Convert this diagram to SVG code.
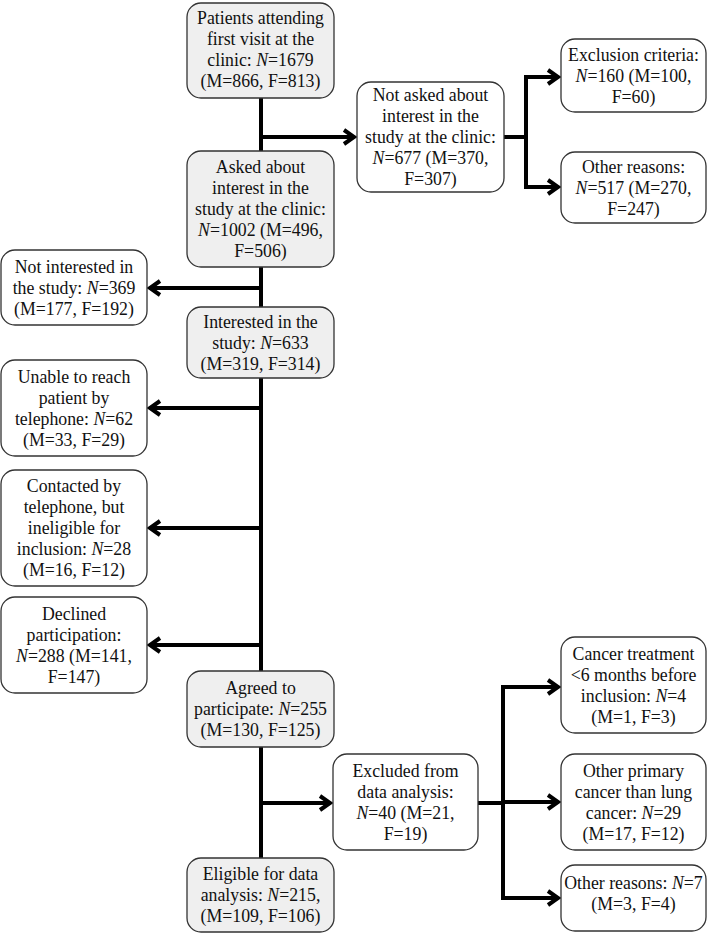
<svg xmlns="http://www.w3.org/2000/svg" width="708" height="934" viewBox="0 0 708 934">
<style>
.box{fill:#ffffff;stroke:#333333;stroke-width:1.3}
.g{fill:#efefef}
text{font-family:"Liberation Serif","Times New Roman",serif;font-size:17.8px;fill:#111111;text-anchor:middle}
.i{font-style:italic}
.c{fill:none;stroke:#000000;stroke-width:4}
.a{marker-end:url(#ah)}
</style>
<defs>
<marker id="ah" markerUnits="userSpaceOnUse" markerWidth="20" markerHeight="20" viewBox="0 0 20 20" refX="12" refY="10" orient="auto" overflow="visible">
<path d="M2,3 L12,10 L2,17" fill="none" stroke="#000000" stroke-width="4"/>
</marker>
</defs>
<rect width="708" height="934" fill="#ffffff"/>
<g id="connectors">
<path class="c" d="M261,98 V151 M261,267 V307 M261,378 V671 M261,747 V858"/>
<path class="c a" d="M261,137 H354"/>
<path class="c" d="M504,137 H526 M526,77 V187"/>
<path class="c a" d="M524,77 H558"/>
<path class="c a" d="M524,187 H558"/>
<path class="c a" d="M261,288 H150"/>
<path class="c a" d="M261,408 H150"/>
<path class="c a" d="M261,528 H150"/>
<path class="c a" d="M261,645 H150"/>
<path class="c a" d="M261,803 H330"/>
<path class="c" d="M478,803 H503 M503,687 V898"/>
<path class="c a" d="M501,687 H558"/>
<path class="c a" d="M501,802 H558"/>
<path class="c a" d="M501,898 H558"/>
</g>
<g id="n-patients">
<rect class="box g" x="187" y="3" width="147" height="95" rx="14"/>
<text x="260.5" y="24">Patients attending</text>
<text x="260.5" y="45">first visit at the</text>
<text x="260.5" y="66">clinic: <tspan class="i">N</tspan>=1679</text>
<text x="260.5" y="87">(M=866, F=813)</text>
</g>
<g id="n-asked">
<rect class="box g" x="187" y="151" width="147" height="116" rx="14"/>
<text x="260.5" y="173">Asked about</text>
<text x="260.5" y="194">interest in the</text>
<text x="260.5" y="215">study at the clinic:</text>
<text x="260.5" y="236"><tspan class="i">N</tspan>=1002 (M=496,</text>
<text x="260.5" y="257">F=506)</text>
</g>
<g id="n-interested">
<rect class="box g" x="187" y="307" width="147" height="71" rx="14"/>
<text x="260.5" y="327.5">Interested in the</text>
<text x="260.5" y="348.5">study: <tspan class="i">N</tspan>=633</text>
<text x="260.5" y="369.5">(M=319, F=314)</text>
</g>
<g id="n-agreed">
<rect class="box g" x="187" y="671" width="147" height="76" rx="14"/>
<text x="260.5" y="694">Agreed to</text>
<text x="260.5" y="715">participate: <tspan class="i">N</tspan>=255</text>
<text x="260.5" y="736">(M=130, F=125)</text>
</g>
<g id="n-eligible">
<rect class="box g" x="187" y="858" width="147" height="74" rx="14"/>
<text x="260.5" y="880">Eligible for data</text>
<text x="260.5" y="901">analysis: <tspan class="i">N</tspan>=215,</text>
<text x="260.5" y="922">(M=109, F=106)</text>
</g>
<g id="n-notasked">
<rect class="box" x="357" y="82" width="147" height="110" rx="14"/>
<text x="430.5" y="101">Not asked about</text>
<text x="430.5" y="122">interest in the</text>
<text x="430.5" y="143">study at the clinic:</text>
<text x="430.5" y="164"><tspan class="i">N</tspan>=677 (M=370,</text>
<text x="430.5" y="185">F=307)</text>
</g>
<g id="n-exclusion">
<rect class="box" x="561" y="39" width="145" height="73" rx="14"/>
<text x="633.5" y="60.5">Exclusion criteria:</text>
<text x="633.5" y="81.5"><tspan class="i">N</tspan>=160 (M=100,</text>
<text x="633.5" y="102.5">F=60)</text>
</g>
<g id="n-otherreasons1">
<rect class="box" x="561" y="152" width="145" height="71" rx="14"/>
<text x="633.5" y="172.5">Other reasons:</text>
<text x="633.5" y="193.5"><tspan class="i">N</tspan>=517 (M=270,</text>
<text x="633.5" y="214.5">F=247)</text>
</g>
<g id="n-notinterested">
<rect class="box" x="1" y="250" width="146" height="75" rx="14"/>
<text x="74" y="272.5">Not interested in</text>
<text x="74" y="293.5">the study: <tspan class="i">N</tspan>=369</text>
<text x="74" y="314.5">(M=177, F=192)</text>
</g>
<g id="n-unable">
<rect class="box" x="1" y="360" width="146" height="96" rx="14"/>
<text x="74" y="382.5">Unable to reach</text>
<text x="74" y="403.5">patient by</text>
<text x="74" y="424.5">telephone: <tspan class="i">N</tspan>=62</text>
<text x="74" y="445.5">(M=33, F=29)</text>
</g>
<g id="n-contacted">
<rect class="box" x="1" y="470" width="146" height="116" rx="14"/>
<text x="74" y="492">Contacted by</text>
<text x="74" y="513">telephone, but</text>
<text x="74" y="534">ineligible for</text>
<text x="74" y="555">inclusion: <tspan class="i">N</tspan>=28</text>
<text x="74" y="576">(M=16, F=12)</text>
</g>
<g id="n-declined">
<rect class="box" x="1" y="597" width="146" height="96" rx="14"/>
<text x="74" y="619.5">Declined</text>
<text x="74" y="640.5">participation:</text>
<text x="74" y="661.5"><tspan class="i">N</tspan>=288 (M=141,</text>
<text x="74" y="682.5">F=147)</text>
</g>
<g id="n-excluded">
<rect class="box" x="333" y="754" width="145" height="96" rx="14"/>
<text x="405.5" y="776.5">Excluded from</text>
<text x="405.5" y="797.5">data analysis:</text>
<text x="405.5" y="818.5"><tspan class="i">N</tspan>=40 (M=21,</text>
<text x="405.5" y="839.5">F=19)</text>
</g>
<g id="n-cancer">
<rect class="box" x="561" y="637" width="145" height="96" rx="14"/>
<text x="633.5" y="659.5">Cancer treatment</text>
<text x="633.5" y="680.5">&lt;6 months before</text>
<text x="633.5" y="701.5">inclusion: <tspan class="i">N</tspan>=4</text>
<text x="633.5" y="722.5">(M=1, F=3)</text>
</g>
<g id="n-otherprimary">
<rect class="box" x="561" y="754" width="145" height="96" rx="14"/>
<text x="633.5" y="776.5">Other primary</text>
<text x="633.5" y="797.5">cancer than lung</text>
<text x="633.5" y="818.5">cancer: <tspan class="i">N</tspan>=29</text>
<text x="633.5" y="839.5">(M=17, F=12)</text>
</g>
<g id="n-otherreasons2">
<rect class="box" x="561" y="865" width="145" height="66" rx="14"/>
<text x="633.5" y="889">Other reasons: <tspan class="i">N</tspan>=7</text>
<text x="633.5" y="910">(M=3, F=4)</text>
</g>
</svg>
